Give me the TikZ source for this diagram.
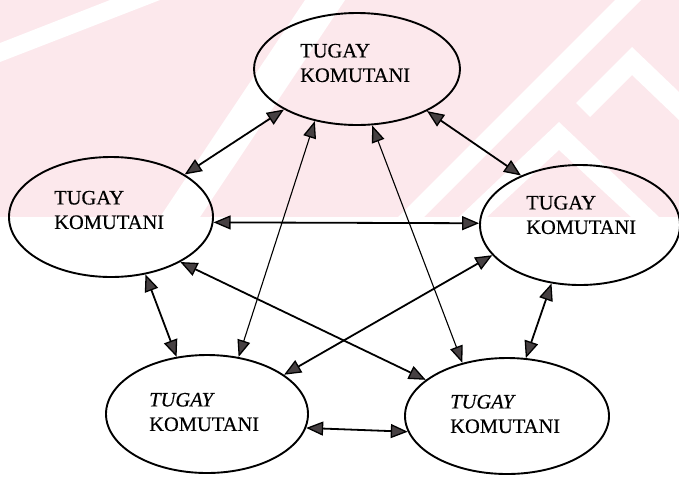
\documentclass[tikz,border=0pt]{standalone}
\usepackage{fontspec}
\setmainfont{Liberation Serif}[FakeBold=0.4]
\usetikzlibrary{arrows.meta,shapes.geometric}
\definecolor{wmpink}{RGB}{252,232,236}
\definecolor{headgray}{RGB}{70,64,66}
\tikzset{
  ell/.style={draw=black, line width=1.9pt, ellipse, inner sep=0pt},
  lbl/.style={anchor=west, align=left, inner sep=0pt, font=\fontsize{20.5}{24.5}\selectfont},
  bold/.style={line width=1.8pt, {Triangle[length=17pt,width=14pt,fill=headgray,line width=1.3pt]}-{Triangle[length=17pt,width=14pt,fill=headgray,line width=1.3pt]}},
  thin/.style={line width=1.1pt, {Triangle[length=17pt,width=13pt,fill=headgray,line width=1.3pt]}-{Triangle[length=17pt,width=13pt,fill=headgray,line width=1.3pt]}},
  wm/.style={fill=white, draw=none}
}
\begin{document}
\begin{tikzpicture}[x=1pt,y=-1pt]
\useasboundingbox (0,0) rectangle (679,483);
% watermark
\begin{scope}
\clip (0,0) rectangle (679,217);
\fill[wmpink] (0,0) rectangle (679,217);
\fill[wm] (110,0) -- (160,0) -- (0,62) -- (0,43) -- cycle;
\fill[wm] (160,217) -- (200,217) -- (345,0) -- (305,0) -- cycle;
\fill[wm] (398,217) -- (424,217) -- (641,0) -- (615,0) -- cycle;
\fill[wm] (559,122) -- (659,217) -- (631,217) -- (559,150) -- (487,217) -- (459,217) -- cycle;
\fill[wm] (632,47) -- (679,92) -- (679,120) -- (632,75) -- (590,117) -- (576,103) -- cycle;
\end{scope}
% ellipses
\node[ell, minimum width=206pt, minimum height=112pt] (T) at (357,69) {};
\node[ell, minimum width=204pt, minimum height=120pt] (L) at (111,217) {};
\node[ell, minimum width=200pt, minimum height=120pt] (R) at (580,225) {};
\node[ell, minimum width=202pt, minimum height=118pt] (BL) at (207,414) {};
\node[ell, minimum width=204pt, minimum height=116pt] (BR) at (507,416) {};
% labels
\node[lbl] (Tt) at (300,63) {TUGAY\\KOMUTANI};
\node[lbl] (Lt) at (54,210) {TUGAY\\KOMUTANI};
\node[lbl] (Rt) at (526,215) {TUGAY\\KOMUTANI};
\node[lbl] (BLt) at (149,412) {\textit{TUGAY}\\KOMUTANI};
\node[lbl] (BRt) at (450,414) {\textit{TUGAY}\\KOMUTANI};
% connectors
\draw[bold] (L.30) -- (T.209);
\draw[bold] (T.329) -- (R.140);
\draw[bold] (L.-3) -- (R.179);
\draw[thin] (T.231) -- (BL.61);
\draw[thin] (T.285) -- (BR.130);
\draw[bold] (L.301) -- (BL.118);
\draw[bold] (L.327) -- (BR.156);
\draw[bold] (R.199) -- (BL.27);
\draw[bold] (R.244) -- (BR.72);
\draw[bold] (BL.-8) -- (BR.189);
\end{tikzpicture}
\end{document}
